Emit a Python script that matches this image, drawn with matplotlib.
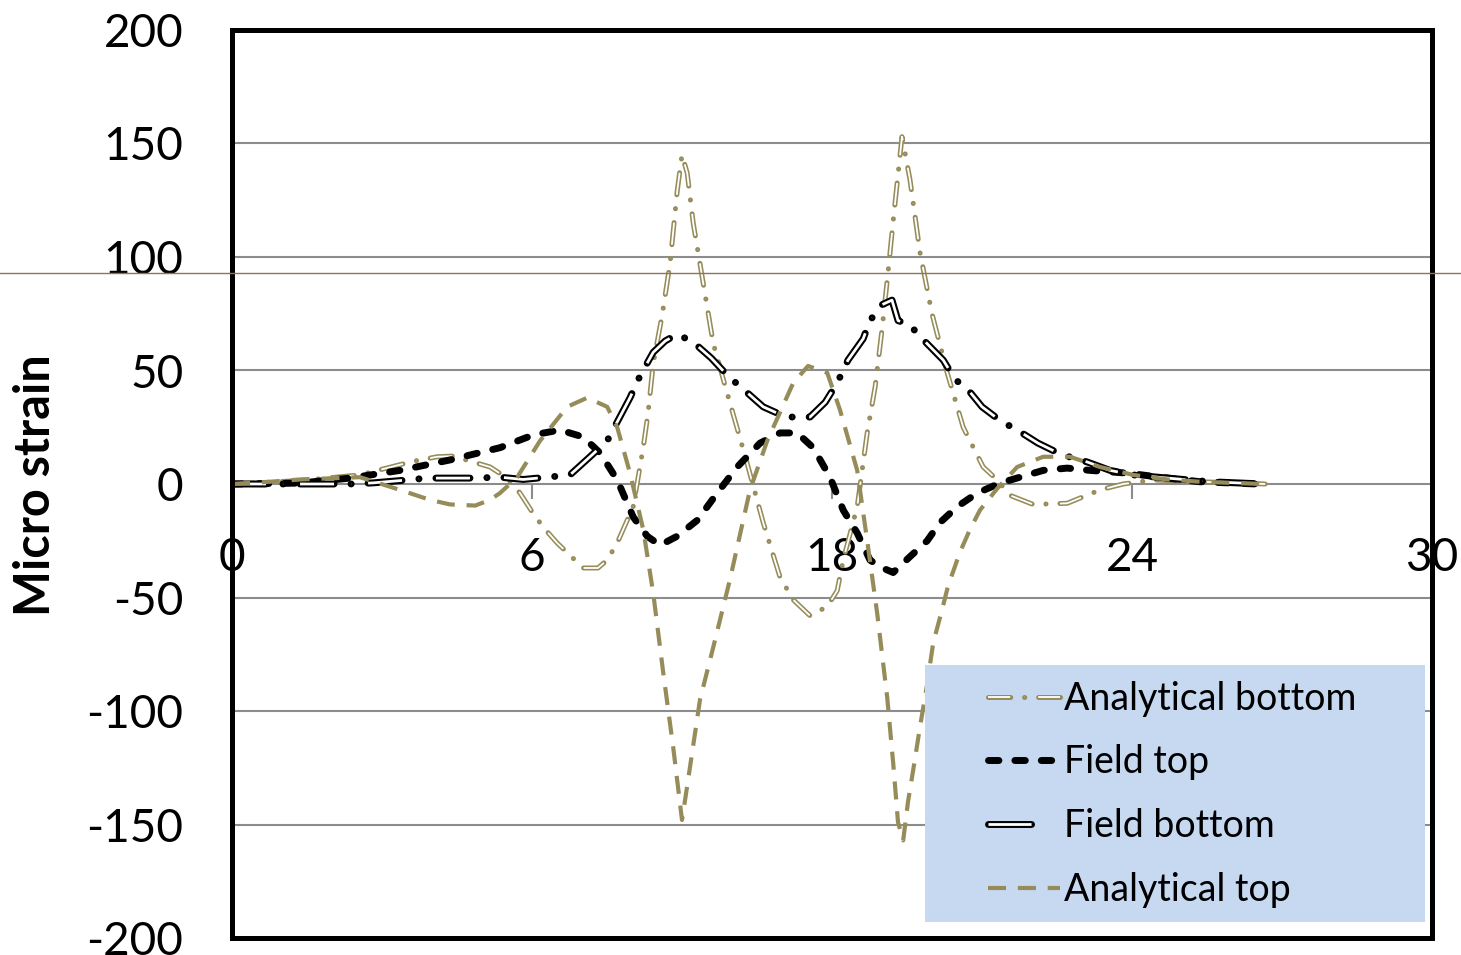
import matplotlib
matplotlib.use('Agg')
import matplotlib.pyplot as plt
from matplotlib.lines import Line2D
from matplotlib.patches import Rectangle
from matplotlib.legend_handler import HandlerTuple

plt.rcParams['font.family'] = ['Lato', 'DejaVu Sans']
plt.rcParams['lines.scale_dashes'] = False

# ---------------- data ----------------
at_x = [0.0, 0.95, 1.7, 3.2, 4.2, 4.95, 5.45, 6.08, 6.45, 6.7, 7.13, 7.7, 8.38, 8.88, 9.38, 9.63,
        9.95, 10.28, 10.53, 10.78, 11.03, 11.25, 11.38, 11.7, 12.03, 12.45, 12.95, 13.38, 14.03,
        14.4, 14.88, 15.2, 15.63, 15.88, 16.13, 16.38, 16.53, 16.65, 16.78, 16.9, 17.03, 17.2,
        17.38, 17.53, 17.75, 17.9, 18.2, 18.45, 18.7, 19.13, 19.63, 20.28, 20.95, 21.7, 22.53,
        23.38, 24.2, 25.78]
at_y = [0, 1, 2, 3, -2.6, -7, -9, -9.5, -7, -4, 3, 19, 34, 38, 34, 25,
        4.8, -20, -48, -83, -116, -148, -133, -95, -72, -42, -2.6, 19, 44.5,
        52, 49, 32.6, 6, -25, -57, -94, -123, -149, -157, -140, -126, -107,
        -88, -70, -55.5, -45, -30, -20, -11.5, -2, 7.5, 12, 12, 7.5, 4,
        2, 1, 0]

ab_x = [0.0, 1.7, 3.2, 4.53, 5.13, 5.53, 6.45, 6.88, 7.2, 7.53, 7.78, 8.13, 8.78, 9.15, 9.38,
        9.63, 10.03, 10.28, 10.4, 10.53, 10.75, 10.95, 11.13, 11.25, 11.38, 11.53, 11.78, 12.03,
        12.38, 12.88, 13.28, 13.7, 14.03, 14.45, 14.88, 15.13, 15.28, 15.63, 15.88, 16.08, 16.25,
        16.4, 16.53, 16.75, 16.95, 17.2, 17.5, 17.88, 18.28, 18.78, 19.13, 19.45, 20.03, 20.88,
        21.7, 22.28, 23.03, 24.2, 25.83]
ab_y = [0, 1.5, 4, 10, 12, 12.3, 7.5, 2.6, -4, -13, -19, -26, -37, -37, -33.5,
        -26, -10, 16, 31, 53, 74, 97, 129, 145, 137, 115, 88.5, 62,
        40, 9, -17, -41, -51, -58, -54, -47, -33.5, -10, 22.5, 43, 68,
        93, 116, 153, 134, 102, 75, 49, 25, 7.5, 1.8, -5, -9, -8.5,
        -2.6, 0, 1.8, 1, 0]

ft_x = [0.0, 1.7, 2.95, 4.2, 5.45, 6.7, 7.53, 8.2, 8.78, 9.2, 9.63, 10.03, 10.38, 10.7, 11.13,
        11.63, 12.13, 12.63, 13.2, 13.7, 14.13, 14.53, 14.95, 15.28, 15.63, 15.95, 16.2, 16.53,
        16.95, 17.38, 17.7, 18.13, 18.63, 19.2, 19.7, 20.28, 20.88, 21.45, 22.38, 23.2, 24.2, 25.63]
ft_y = [0, 0.4, 2.6, 6, 10.6, 16, 21.6, 23.8, 20.7, 13.7, 1.8, -14.5, -23, -27, -23,
        -16, -4, 7.5, 18, 22.5, 22.5, 16, 3, -11.5, -21.6, -33.5, -36.5, -39,
        -32, -25, -17, -10, -4, 0.4, 3, 6, 7, 6, 4.8, 3, 1, 0]

fb_x = [0.0, 1.2, 2.95, 3.53, 4.2, 4.88, 5.45, 6.03, 6.7, 7.28, 7.88, 8.45, 8.95, 9.38, 9.95,
        10.2, 10.53, 10.83, 11.13, 11.53, 11.98, 12.4, 12.83, 13.28, 13.85, 14.45, 14.83, 15.13,
        15.4, 15.78, 15.95, 16.25, 16.5, 16.65, 16.95, 17.2, 17.48, 17.78, 18.08, 18.38, 18.75,
        19.2, 19.7, 20.15, 20.73, 21.38, 21.95, 22.53, 23.45, 24.45, 25.78]
fb_y = [0, 0, 0, 0.5, 1.5, 2.6, 2.6, 2.6, 3, 2, 3, 4, 12, 19, 38,
        47.6, 58, 63, 66, 62.5, 55.5, 47.6, 41, 34, 29.5, 29.5, 36, 44.5,
        54.6, 64, 72, 79, 81, 72, 70, 65, 60, 54.6, 46, 42, 34,
        28, 23, 18, 13, 9.7, 6, 4, 2.5, 1, 0]

x_ticks = [0, 7.5, 15, 22.5, 30]
x_tick_labels = ['0', '6', '18', '24', '30']
y_ticks = [-200, -150, -100, -50, 0, 50, 100, 150, 200]
series_labels = ['Analytical bottom', 'Field top', 'Field bottom', 'Analytical top']

# ---------------- styles ----------------
OLIVE = '#968C5A'
GRID = '#8C8C8C'

W, H = 1461, 955
fig = plt.figure(figsize=(W / 100, H / 100), dpi=100)
ax = fig.add_axes([232 / W, 1 - 938 / H, 1200 / W, 908 / H])
ax.set_xlim(0, 30)
ax.set_ylim(-200, 200)

# gridlines
for yv in y_ticks:
    if yv not in (0, 200, -200):
        ax.axhline(yv, color=GRID, lw=1.5, zorder=1)

# x axis on zero line
for s in ['top', 'right', 'left']:
    ax.spines[s].set_visible(False)
ax.spines['bottom'].set_position(('data', 0))
ax.spines['bottom'].set_color(GRID)
ax.spines['bottom'].set_linewidth(1.5)
ax.spines['bottom'].set_zorder(1)
ax.set_xticks(x_ticks)
ax.set_xticklabels(x_tick_labels)
ax.tick_params(axis='x', direction='out', length=11, width=1.5, color=GRID,
               labelsize=33, pad=27)
ax.set_yticks(y_ticks)
ax.set_yticklabels([str(v) for v in y_ticks])
ax.tick_params(axis='y', length=0, labelsize=33, pad=35)

# frame
ax.add_patch(Rectangle((0, 0), 1, 1, transform=ax.transAxes, fill=False,
                       ec='black', lw=3.6, zorder=20, clip_on=False))

def dbl(x, y, color, lw_out, lw_in, pattern, z):
    o, = ax.plot(x, y, color=color, lw=lw_out, linestyle=(0, pattern),
                 dash_capstyle='round', solid_capstyle='round', zorder=z)
    i, = ax.plot(x, y, color='white', lw=lw_in, linestyle=(0, pattern),
                 dash_capstyle='butt', zorder=z + 0.1)
    return o, i

ab_pat = (16, 10, 0.1, 10)
fb_pat = (24.5, 12.2, 0.1, 12.2)
h_ab = dbl(ab_x, ab_y, OLIVE, 3.6, 1.3, ab_pat, 3)
h_ft, = ax.plot(ft_x, ft_y, color='black', lw=5, linestyle=(0, (7.5, 11.5)),
                dash_capstyle='round', zorder=4)
h_fb = dbl(fb_x, fb_y, 'black', 5, 2.0, fb_pat, 5)
h_at, = ax.plot(at_x, at_y, color=OLIVE, lw=3.0, linestyle=(0, (13, 8.5)),
                dash_capstyle='butt', zorder=6)

# legend proxy for Field bottom: a single short double-line segment
fb_leg = (Line2D([], [], color='black', lw=5, linestyle=(0, (31, 80)),
                 dash_capstyle='round'),
          Line2D([], [], color='white', lw=2.0, linestyle=(0, (31, 80)),
                 dash_capstyle='butt'))

# y label
fig.text(36 / W, 1 - 485 / H, 'Micro strain', rotation=90, fontsize=35,
         fontweight='bold', ha='center', va='center')

# legend background and legend
fig.add_artist(Rectangle((925 / W, 1 - 922 / H), 500 / W, 257 / H,
                         transform=fig.transFigure, fc='#C6D9F0', ec='none', zorder=5))
leg = fig.legend([h_ab, h_ft, fb_leg, h_at], series_labels,
                 handler_map={tuple: HandlerTuple(ndivide=1, pad=0)},
                 loc='upper left', bbox_to_anchor=(969 / W, 1 - 662 / H),
                 frameon=False, fontsize=27, handlelength=1.93,
                 handletextpad=0.1, labelspacing=0.74, borderpad=0)
leg.set_zorder(6)

# thin stray horizontal line across the figure
fig.add_artist(Line2D([0, 1], [1 - 273 / H, 1 - 273 / H], transform=fig.transFigure,
                      color='#8B7752', lw=1.0, zorder=30))

fig.savefig('out.png', dpi=100)
